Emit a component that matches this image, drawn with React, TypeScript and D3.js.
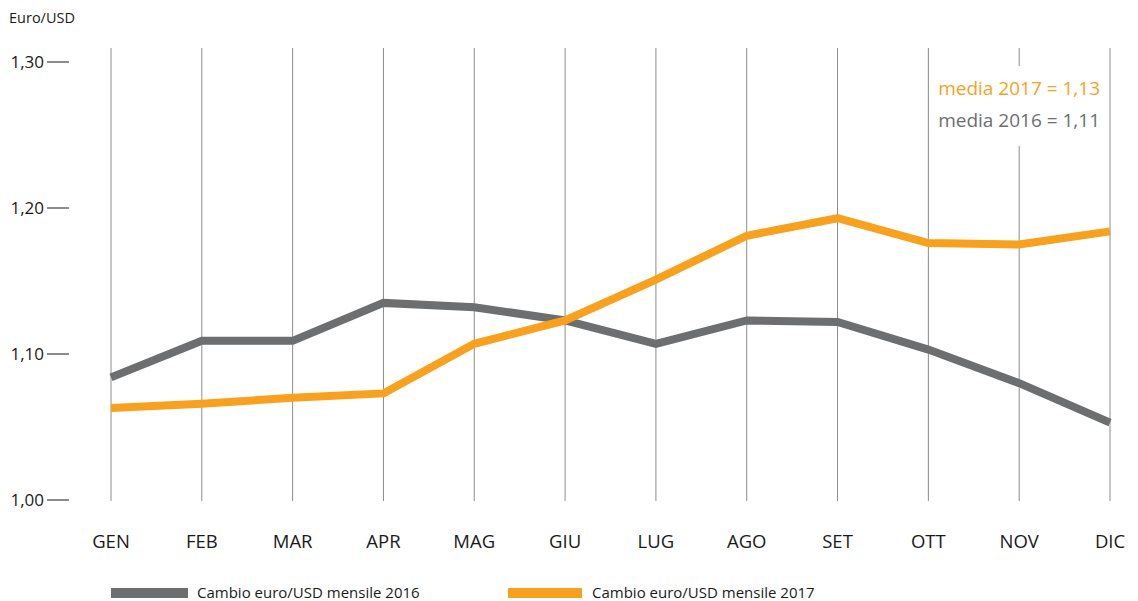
import React from "react";
import * as d3 from "d3";

const months = ["GEN", "FEB", "MAR", "APR", "MAG", "GIU", "LUG", "AGO", "SET", "OTT", "NOV", "DIC"];
const values2016 = [1.084, 1.109, 1.109, 1.135, 1.132, 1.123, 1.107, 1.123, 1.122, 1.103, 1.080, 1.053];
const values2017 = [1.063, 1.066, 1.070, 1.073, 1.107, 1.123, 1.151, 1.181, 1.193, 1.176, 1.175, 1.184];
const yTicks = [1.0, 1.1, 1.2, 1.3];
const legendLabels = ["Cambio euro/USD mensile 2016", "Cambio euro/USD mensile 2017"];
const mediaLabels = ["media 2017 = 1,13", "media 2016 = 1,11"];

const GRAY = "#6d6e70";
const ORANGE = "#f7a11f";
const FONT = "'Open Sans', 'Noto Sans', sans-serif";

const W = 1138;
const H = 601;

export default function App() {
  const x = d3.scalePoint<string>().domain(months).range([111, 1110]);
  const y = d3.scaleLinear().domain([1.0, 1.3]).range([500, 62]);
  const line = d3
    .line<number>()
    .x((_, i) => x(months[i]) as number)
    .y((d) => y(d));
  const fmt = (v: number) => v.toFixed(2).replace(".", ",");

  return (
    <svg width={W} height={H} style={{ position: "absolute", left: 0, top: 0 }} fontFamily={FONT}>
      <rect width={W} height={H} fill="#fff" />
      <text x={9} y={23} fontSize={14.5} fill="#1a1a1a">Euro/USD</text>

      {months.map((m) => (
        <line key={m} x1={x(m)} x2={x(m)} y1={48} y2={501} stroke="#8c8c8c" strokeWidth={1} />
      ))}

      {yTicks.map((t) => (
        <g key={t}>
          <line x1={47} x2={69} y1={y(t)} y2={y(t)} stroke="#1a1a1a" strokeWidth={1} />
          <text x={44} y={y(t) + 6} fontSize={17} textAnchor="end" fill="#1a1a1a">{fmt(t)}</text>
        </g>
      ))}

      {months.map((m) => (
        <text key={m} x={x(m)} y={548} fontSize={18.5} textAnchor="middle" fill="#1a1a1a">{m}</text>
      ))}

      <path d={line(values2016) ?? ""} fill="none" stroke={GRAY} strokeWidth={8} />
      <path d={line(values2017) ?? ""} fill="none" stroke={ORANGE} strokeWidth={8} />

      <rect x={932} y={66} width={172} height={80} fill="#fff" />
      <text x={1100} y={95} fontSize={19} textAnchor="end" fill={ORANGE}>{mediaLabels[0]}</text>
      <text x={1100} y={127} fontSize={19} textAnchor="end" fill={GRAY}>{mediaLabels[1]}</text>

      <rect x={111} y={588} width={77} height={10} fill={GRAY} />
      <text x={197} y={598} fontSize={15} fill="#1a1a1a">{legendLabels[0]}</text>
      <rect x={508} y={588} width={74} height={10} fill={ORANGE} />
      <text x={592} y={598} fontSize={15} fill="#1a1a1a">{legendLabels[1]}</text>
    </svg>
  );
}
